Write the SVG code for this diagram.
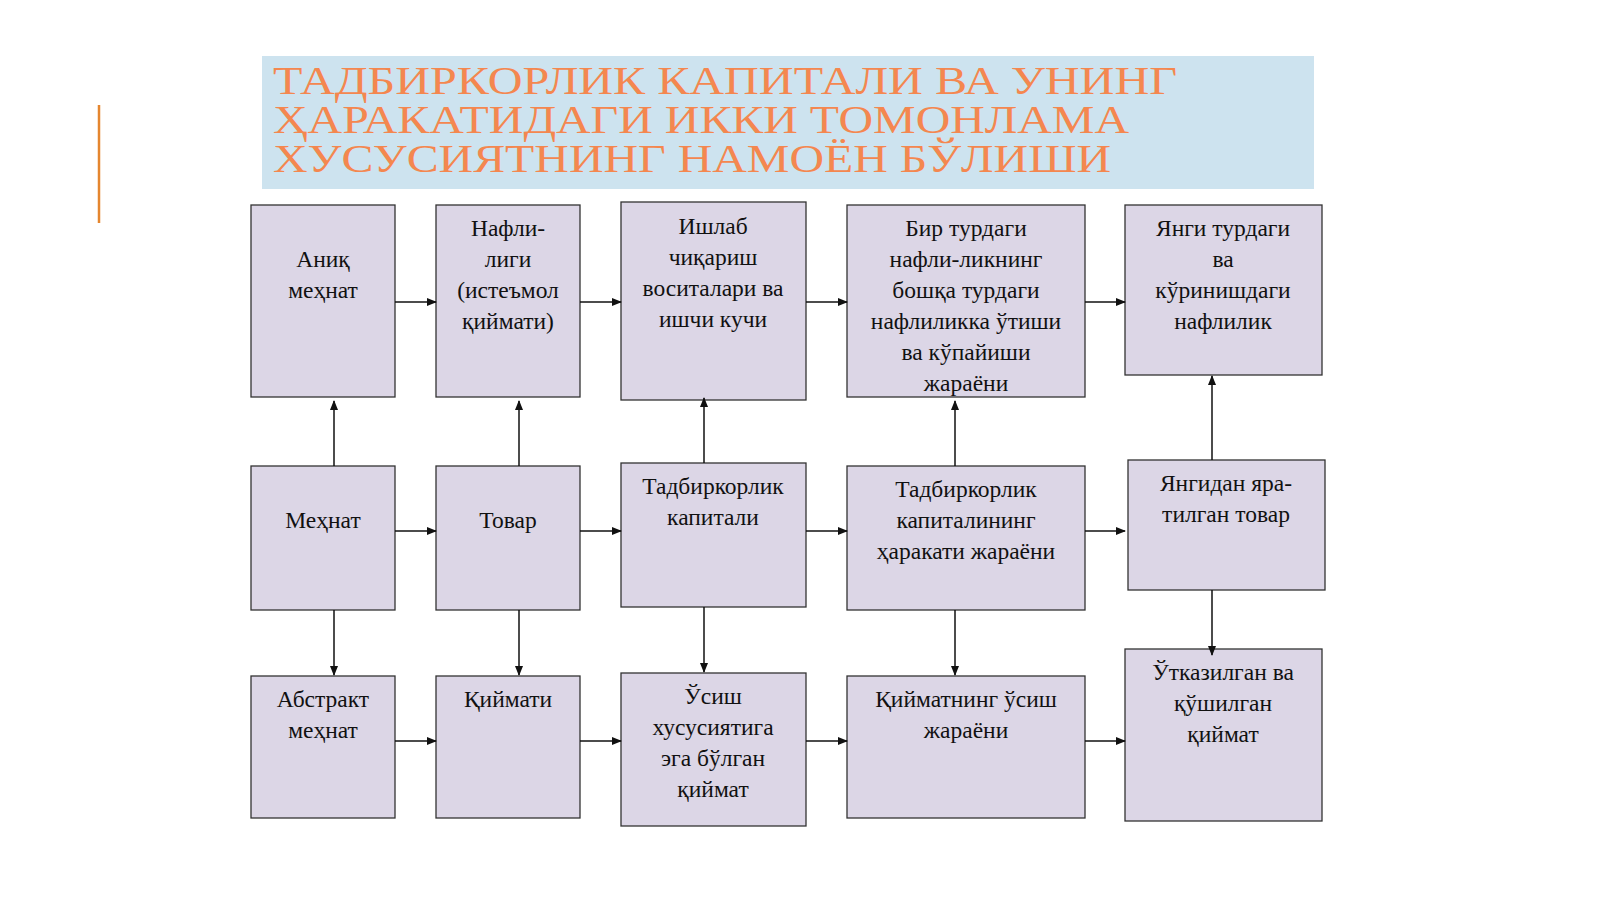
<svg xmlns="http://www.w3.org/2000/svg" width="1600" height="899" viewBox="0 0 1600 899">
<defs>
<style>
.b{fill:#dcd6e6;stroke:#333;stroke-width:1.3}
.t{font-family:"Liberation Serif",serif;font-size:23.5px;fill:#111;text-anchor:middle}
.h{font-family:"Liberation Serif",serif;font-size:40px;fill:#f4874f}
.c line{stroke:#111;stroke-width:1.5;marker-end:url(#a)}
</style>
<marker id="a" markerWidth="10" markerHeight="8" refX="9" refY="4" orient="auto" markerUnits="userSpaceOnUse"><path d="M0,0L10,4L0,8z" fill="#111"/></marker>
</defs>
<rect width="1600" height="899" fill="#fff"/>
<line x1="99" y1="105" x2="99" y2="223" stroke="#e5862f" stroke-width="2.5"/>
<g id="title">
<rect x="262" y="56" width="1052" height="133" fill="#cde3ef"/>
<text class="h" x="273" y="94" textLength="904" lengthAdjust="spacingAndGlyphs">ТАДБИРКОРЛИК КАПИТАЛИ ВА УНИНГ</text>
<text class="h" x="273" y="133" textLength="856" lengthAdjust="spacingAndGlyphs">ҲАРАКАТИДАГИ ИККИ ТОМОНЛАМА</text>
<text class="h" x="273" y="172" textLength="838" lengthAdjust="spacingAndGlyphs">ХУСУСИЯТНИНГ НАМОЁН БЎЛИШИ</text>
</g>
<g id="n1"><rect class="b" x="251" y="205" width="144" height="192"/><text class="t" x="323" y="267">Аниқ</text><text class="t" x="323" y="298">меҳнат</text></g>
<g id="n2"><rect class="b" x="436" y="205" width="144" height="192"/><text class="t" x="508" y="236">Нафли-</text><text class="t" x="508" y="267">лиги</text><text class="t" x="508" y="298">(истеъмол</text><text class="t" x="508" y="329">қиймати)</text></g>
<g id="n3"><rect class="b" x="621" y="202" width="185" height="198"/><text class="t" x="713" y="234">Ишлаб</text><text class="t" x="713" y="265">чиқариш</text><text class="t" x="713" y="296">воситалари ва</text><text class="t" x="713" y="327">ишчи кучи</text></g>
<g id="n4"><rect class="b" x="847" y="205" width="238" height="192"/><text class="t" x="966" y="236">Бир турдаги</text><text class="t" x="966" y="267">нафли-ликнинг</text><text class="t" x="966" y="298">бошқа турдаги</text><text class="t" x="966" y="329">нафлиликка ўтиши</text><text class="t" x="966" y="360">ва кўпайиши</text><text class="t" x="966" y="391">жараёни</text></g>
<g id="n5"><rect class="b" x="1125" y="205" width="197" height="170"/><text class="t" x="1223" y="236">Янги турдаги</text><text class="t" x="1223" y="267">ва</text><text class="t" x="1223" y="298">кўринишдаги</text><text class="t" x="1223" y="329">нафлилик</text></g>
<g id="n6"><rect class="b" x="251" y="466" width="144" height="144"/><text class="t" x="323" y="528">Меҳнат</text></g>
<g id="n7"><rect class="b" x="436" y="466" width="144" height="144"/><text class="t" x="508" y="528">Товар</text></g>
<g id="n8"><rect class="b" x="621" y="463" width="185" height="144"/><text class="t" x="713" y="494">Тадбиркорлик</text><text class="t" x="713" y="525">капитали</text></g>
<g id="n9"><rect class="b" x="847" y="466" width="238" height="144"/><text class="t" x="966" y="497">Тадбиркорлик</text><text class="t" x="966" y="528">капиталининг</text><text class="t" x="966" y="559">ҳаракати жараёни</text></g>
<g id="n10"><rect class="b" x="1128" y="460" width="197" height="130"/><text class="t" x="1226" y="491">Янгидан яра-</text><text class="t" x="1226" y="522">тилган товар</text></g>
<g id="n11"><rect class="b" x="251" y="676" width="144" height="142"/><text class="t" x="323" y="707">Абстракт</text><text class="t" x="323" y="738">меҳнат</text></g>
<g id="n12"><rect class="b" x="436" y="676" width="144" height="142"/><text class="t" x="508" y="707">Қиймати</text></g>
<g id="n13"><rect class="b" x="621" y="673" width="185" height="153"/><text class="t" x="713" y="704">Ўсиш</text><text class="t" x="713" y="735">хусусиятига</text><text class="t" x="713" y="766">эга бўлган</text><text class="t" x="713" y="797">қиймат</text></g>
<g id="n14"><rect class="b" x="847" y="676" width="238" height="142"/><text class="t" x="966" y="707">Қийматнинг ўсиш</text><text class="t" x="966" y="738">жараёни</text></g>
<g id="n15"><rect class="b" x="1125" y="649" width="197" height="172"/><text class="t" x="1223" y="680">Ўтказилган ва</text><text class="t" x="1223" y="711">қўшилган</text><text class="t" x="1223" y="742">қиймат</text></g>
<g class="c" id="connectors">
<line x1="395" y1="302" x2="436" y2="302"/><line x1="580" y1="302" x2="621" y2="302"/><line x1="806" y1="302" x2="847" y2="302"/><line x1="1085" y1="302" x2="1125" y2="302"/>
<line x1="395" y1="531" x2="436" y2="531"/><line x1="580" y1="531" x2="621" y2="531"/><line x1="806" y1="531" x2="847" y2="531"/><line x1="1085" y1="531" x2="1125" y2="531"/>
<line x1="395" y1="741" x2="436" y2="741"/><line x1="580" y1="741" x2="621" y2="741"/><line x1="806" y1="741" x2="847" y2="741"/><line x1="1085" y1="741" x2="1125" y2="741"/>
<line x1="334" y1="466" x2="334" y2="401"/><line x1="519" y1="466" x2="519" y2="401"/><line x1="704" y1="463" x2="704" y2="398"/><line x1="955" y1="466" x2="955" y2="401"/><line x1="1212" y1="460" x2="1212" y2="376"/>
<line x1="334" y1="610" x2="334" y2="675"/><line x1="519" y1="610" x2="519" y2="675"/><line x1="704" y1="607" x2="704" y2="672"/><line x1="955" y1="610" x2="955" y2="675"/><line x1="1212" y1="590" x2="1212" y2="655"/>
</g>
</svg>
